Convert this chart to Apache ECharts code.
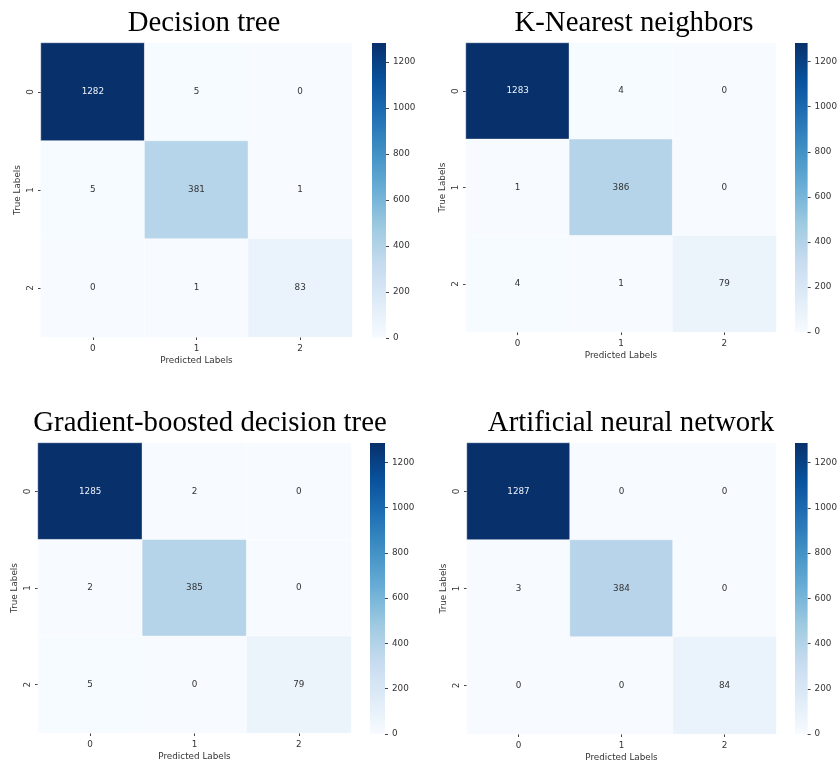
<!DOCTYPE html>
<html>
<head>
<meta charset="utf-8">
<script src="https://cdn.jsdelivr.net/npm/echarts@6/dist/echarts.min.js"></script>
<style>
  html, body { margin: 0; padding: 0; background: #ffffff; }
  #chart { width: 840px; height: 764px; }
</style>
</head>
<body>
<div id="chart"></div>
<script>
// Class labels shared by both axes of every confusion matrix
const categories = ['0', '1', '2'];

// Panel titles
const modelNames = [
  'Decision tree',
  'K-Nearest neighbors',
  'Gradient-boosted decision tree',
  'Artificial neural network'
];

// Confusion matrices: rows = true label, columns = predicted label
const decisionTree    = [[1282, 5, 0], [5, 381, 1], [0, 1, 83]];
const kNearest        = [[1283, 4, 0], [1, 386, 0], [4, 1, 79]];
const gradientBoosted = [[1285, 2, 0], [2, 385, 0], [5, 0, 79]];
const neuralNetwork   = [[1287, 0, 0], [3, 384, 0], [0, 0, 84]];

// Colour-bar tick labels
const colorbarTicks = [0, 200, 400, 600, 800, 1000, 1200];

// "Blues" sequential palette, light to dark
const blues = ['#f7fbff', '#deebf7', '#c6dbef', '#9ecae1', '#6baed6',
               '#4292c6', '#2171b5', '#08519c', '#08306b'];

const matrices = [decisionTree, kNearest, gradientBoosted, neuralNetwork];

// Panel geometry: heatmap box, colour-bar box, title centre
const panels = [
  { grid: [41, 43, 311, 294], bar: [372, 43, 14, 295], title: [204, 9] },
  { grid: [466, 43, 310, 289], bar: [795, 43, 14, 289], title: [634, 9] },
  { grid: [38, 443, 313, 290], bar: [370, 443, 15, 291], title: [210, 409] },
  { grid: [467, 443, 309, 291], bar: [795, 443, 14, 291], title: [631, 409] }
];

const smallFont = 'DejaVu Sans';
const tickColor = '#333333';

const option = {
  backgroundColor: '#ffffff',
  animation: false,
  title: [], grid: [], xAxis: [], yAxis: [], series: [], visualMap: []
};

matrices.forEach((m, i) => {
  const p = panels[i];
  const maxVal = Math.max(...m.flat());

  option.title.push({
    text: modelNames[i],
    left: p.title[0],
    top: p.title[1],
    textAlign: 'center',
    padding: 0,
    textStyle: { fontFamily: 'Liberation Serif', fontSize: 28.8, fontWeight: 'normal', color: '#000000' }
  });

  // heatmap grid
  option.grid.push({ left: p.grid[0], top: p.grid[1], width: p.grid[2], height: p.grid[3] });
  // colour-bar grid
  option.grid.push({ left: p.bar[0], top: p.bar[1], width: p.bar[2], height: p.bar[3] });

  option.xAxis.push({
    type: 'category', gridIndex: 2 * i, data: categories, position: 'bottom',
    name: 'Predicted Labels', nameLocation: 'middle', nameGap: 19,
    nameTextStyle: { fontFamily: smallFont, fontSize: 8.8, color: tickColor },
    axisLine: { show: false },
    axisTick: { show: true, alignWithLabel: true, length: 3, lineStyle: { color: '#444' } },
    axisLabel: { fontFamily: smallFont, fontSize: 8.8, color: tickColor, margin: 7 },
    splitLine: { show: false }
  });
  option.xAxis.push({
    type: 'category', gridIndex: 2 * i + 1, data: [''], show: false
  });

  option.yAxis.push({
    type: 'category', gridIndex: 2 * i, data: categories, inverse: true,
    name: 'True Labels', nameLocation: 'middle', nameGap: 19,
    nameTextStyle: { fontFamily: smallFont, fontSize: 8.8, color: tickColor },
    axisLine: { show: false },
    axisTick: { show: true, alignWithLabel: true, length: 3, lineStyle: { color: '#444' } },
    axisLabel: { fontFamily: smallFont, fontSize: 8.8, color: tickColor, margin: 6, rotate: 90 },
    splitLine: { show: false }
  });
  option.yAxis.push({
    type: 'value', gridIndex: 2 * i + 1, position: 'right', min: 0, max: maxVal,
    axisLine: { show: false },
    axisTick: { show: true, length: 3, customValues: colorbarTicks, lineStyle: { color: '#444' } },
    axisLabel: {
      fontFamily: smallFont, fontSize: 8.8, color: tickColor, margin: 7,
      customValues: colorbarTicks, formatter: v => String(v)
    },
    splitLine: { show: false }
  });

  const cells = [];
  m.forEach((row, r) => row.forEach((v, c) => {
    cells.push({
      value: [c, r, v],
      label: { color: v / maxVal > 0.6 ? '#eef3fa' : '#333333' }
    });
  }));

  option.series.push({
    type: 'heatmap', xAxisIndex: 2 * i, yAxisIndex: 2 * i, data: cells,
    label: { show: true, fontFamily: smallFont, fontSize: 8.8 },
    itemStyle: { borderColor: 'rgba(255,255,255,0.7)', borderWidth: 0.6 },
    emphasis: { disabled: true }
  });

  option.visualMap.push({
    type: 'continuous', show: false, seriesIndex: 2 * i, min: 0, max: maxVal,
    inRange: { color: blues }
  });

  // colour bar: one full-height bar filled with the palette gradient
  option.series.push({
    type: 'bar', xAxisIndex: 2 * i + 1, yAxisIndex: 2 * i + 1,
    data: [maxVal], barWidth: '100%', silent: true,
    itemStyle: {
      color: {
        type: 'linear', x: 0, y: 1, x2: 0, y2: 0,
        colorStops: blues.map((c, k) => ({ offset: k / (blues.length - 1), color: c }))
      }
    }
  });
});

const chart = echarts.init(document.getElementById('chart'), null, { renderer: 'canvas' });
chart.setOption(option);
</script>
</body>
</html>
